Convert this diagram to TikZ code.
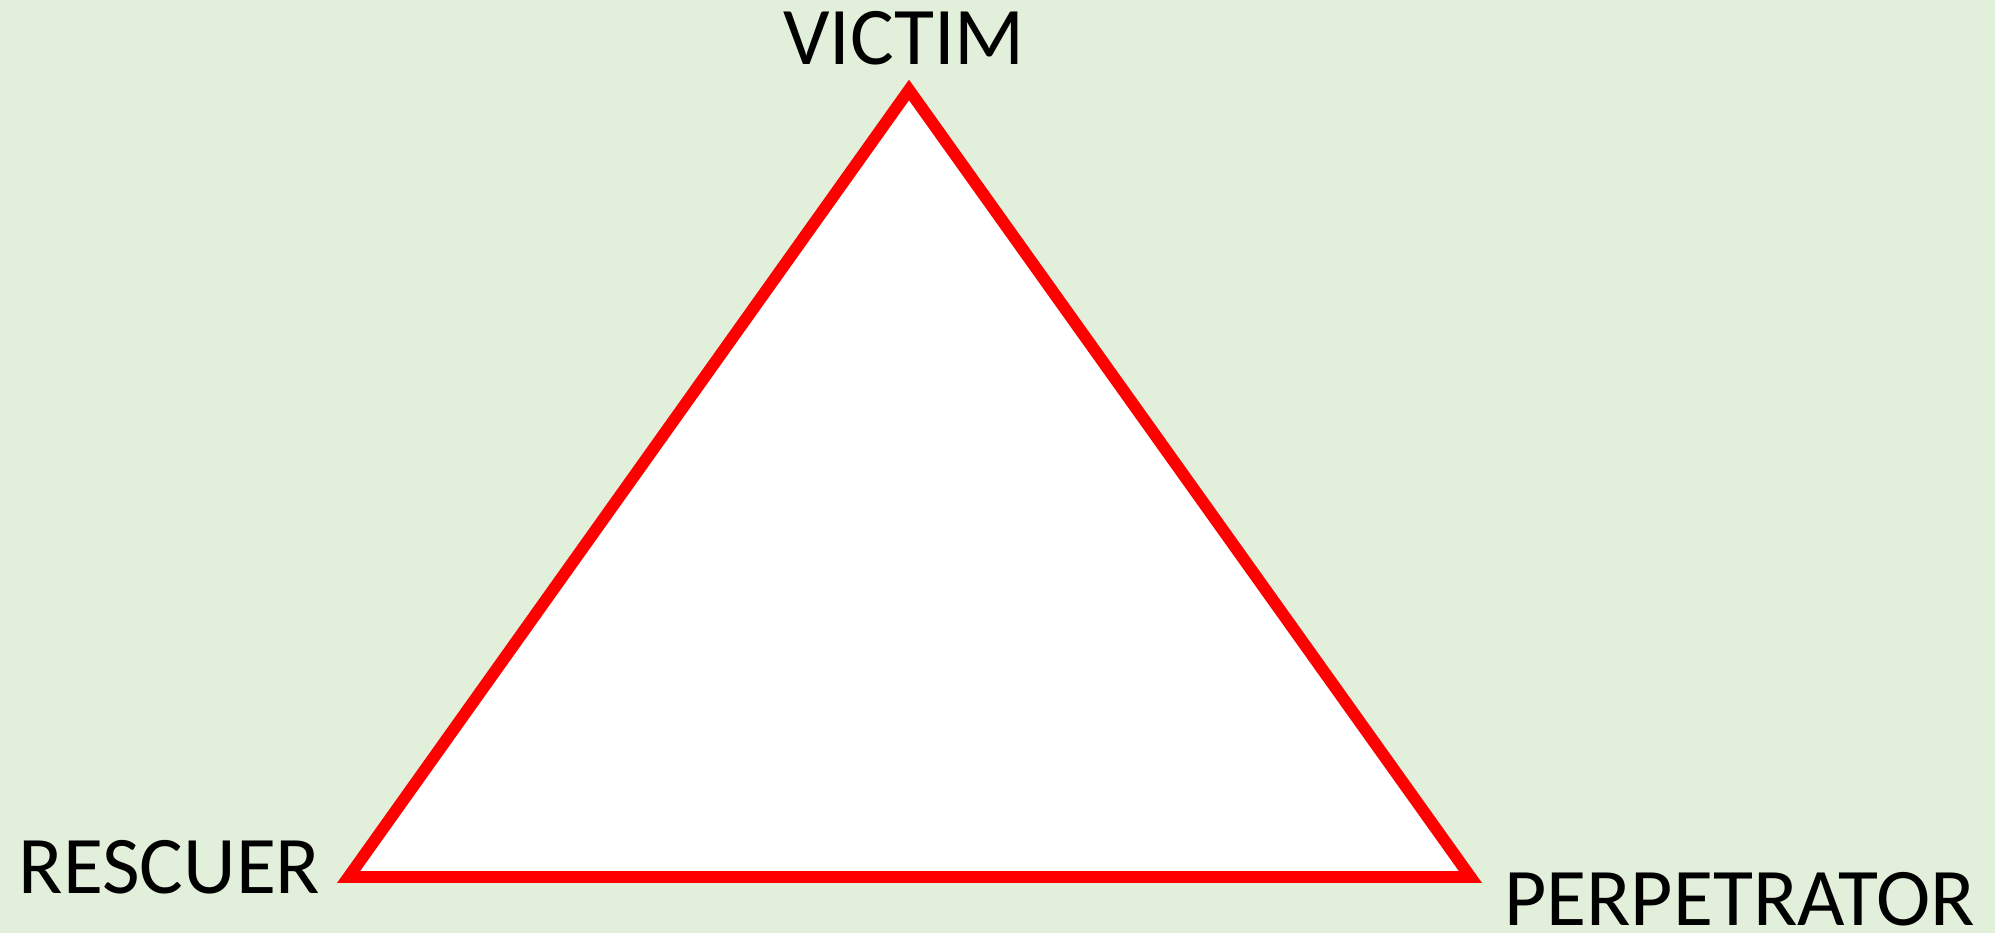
\documentclass[tikz,border=0pt]{standalone}
\usepackage{fontspec}
\setmainfont{Carlito}
\usepackage{xcolor}
\usepackage{tikz}
\definecolor{dtgreen}{HTML}{E2EFDA}
\definecolor{dtred}{HTML}{FF0000}
\tikzset{
  role/.style={inner sep=0pt, anchor=base, font=\fontsize{23.3}{28}\selectfont},
  edge/.style={draw=dtred, line width=3.4pt, line join=miter, fill=white}
}

\begin{document}
\begin{tikzpicture}
  \fill[dtgreen] (0,0) rectangle (19.95,9.33);
  \useasboundingbox (0,0) rectangle (19.95,9.33);

  \coordinate (victim) at (9.09,8.43);
  \coordinate (rescuer) at (3.486,0.56);
  \coordinate (perp) at (14.704,0.56);

  \draw[edge] (victim) -- (perp) -- (rescuer) -- cycle;

  \node[role] (lvictim) at (9.04,8.68) {VICTIM};
  \node[role] (lrescuer) at (1.695,0.39) {RESCUER};
  \node[role] (lperp) at (17.395,0.07) {PERPETRATOR};
\end{tikzpicture}
\end{document}
